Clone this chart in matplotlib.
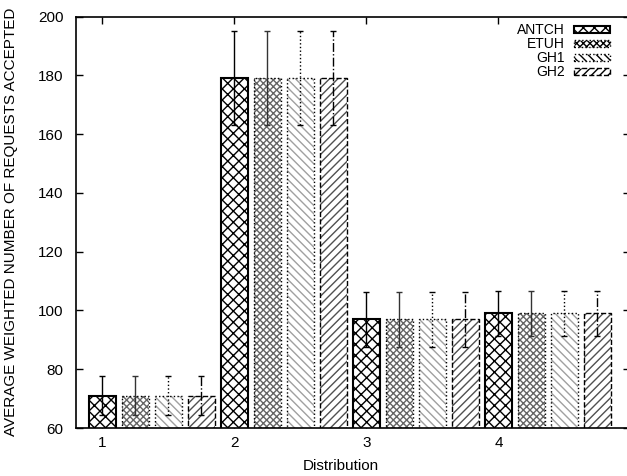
import numpy as np
import matplotlib
matplotlib.use("Agg")
import matplotlib.pyplot as plt
from matplotlib.patches import Patch

plt.rcParams['font.family'] = ['Liberation Sans', 'DejaVu Sans']

distributions = [1, 2, 3, 4]
algos = ['ANTCH', 'ETUH', 'GH1', 'GH2']
# same mean for every algorithm within a distribution
means = {
    'ANTCH': [71, 179, 97, 99],
    'ETUH': [71, 179, 97, 99],
    'GH1': [71, 179, 97, 99],
    'GH2': [71, 179, 97, 99],
}
errs = {
    'ANTCH': [6.6, 16, 9.4, 7.6],
    'ETUH': [6.6, 16, 9.4, 7.6],
    'GH1': [6.6, 16, 9.4, 7.6],
    'GH2': [6.6, 16, 9.4, 7.6],
}

hatches = ['xxx', 'xxxxx', '\\\\\\\\', '////']
hatch_cols = ['black', '#666666', '#a0a0a0', '#505050']
edge_ls = ['-', ':', ':', '--']
edge_lw = [1.5, 1.0, 1.0, 1.0]
err_ls = ['-', '-', ':', '-.']
err_cols = ['black', '#333333', 'black', 'black']

fig = plt.figure(figsize=(6.27, 4.76), dpi=100)
ax = fig.add_axes([0.1212, 0.1008, 0.8843, 0.8645])

x = np.array(distributions, dtype=float)
step = 0.25
width = 0.205
handles = []
for i, a in enumerate(algos):
    pos = x + i * step
    ax.bar(pos, means[a], width, color='white', edgecolor=hatch_cols[i],
           hatch=hatches[i], linewidth=0, zorder=2)
    ax.bar(pos, means[a], width, fill=False, edgecolor='black',
           linestyle=edge_ls[i], linewidth=edge_lw[i], zorder=3)
    eb = ax.errorbar(pos, means[a], yerr=errs[a], fmt='none', ecolor=err_cols[i],
                     elinewidth=1.0, capsize=2, capthick=1.0, zorder=4)
    eb[2][0].set_linestyle(err_ls[i])
    handles.append(Patch(facecolor='white', edgecolor='black', hatch=hatches[i],
                         linestyle=edge_ls[i], linewidth=edge_lw[i], label=a))

ax.set_xlim(0.8, 5.0)
ax.set_ylim(60, 200)
ax.set_xticks(distributions)
ax.set_yticks(np.arange(60, 201, 20))
ax.tick_params(direction='in', length=5, width=1, labelsize=11, top=True, right=True,
               pad=6)
ax.tick_params(axis='y', pad=9)
for s in ax.spines.values():
    s.set_linewidth(1.2)
ax.spines['right'].set_visible(False)

ax.set_ylabel('AVERAGE WEIGHTED NUMBER OF REQUESTS ACCEPTED', fontsize=11)
ax.yaxis.set_label_coords(-0.105, 0.5)
ax.set_xlabel('Distribution', fontsize=11)
ax.xaxis.set_label_coords(0.478, -0.075)

leg = ax.legend(handles=handles, loc='upper right', bbox_to_anchor=(0.975, 1.0),
                frameon=False, markerfirst=False, fontsize=10, handlelength=2.6,
                handleheight=0.45, labelspacing=0.0, handletextpad=0.6,
                borderaxespad=0.1)
for t in leg.get_texts():
    t.set_ha('right')

fig.savefig('out.png', dpi=100)
